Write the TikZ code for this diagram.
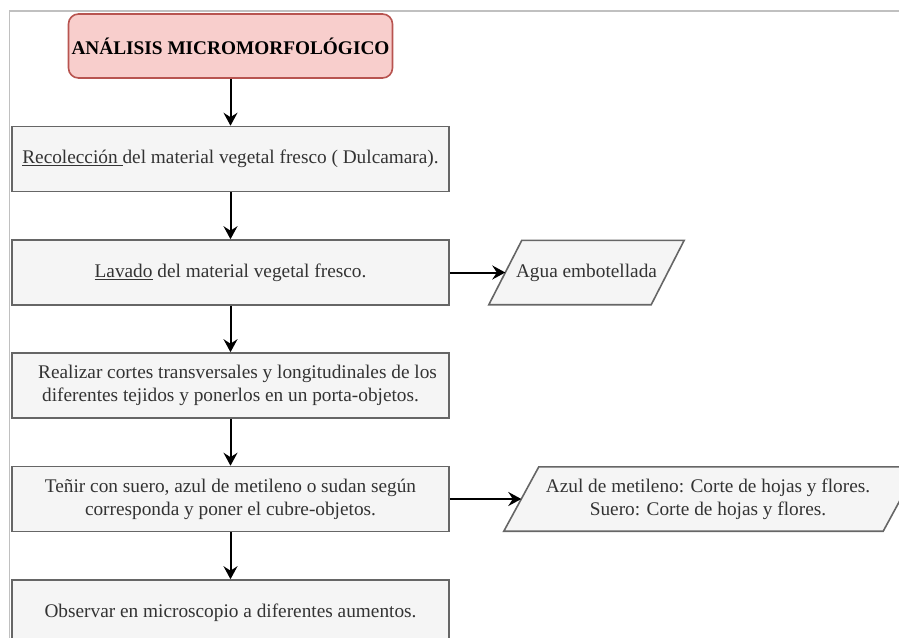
\documentclass[tikz,border=0pt]{standalone}
\usepackage{fontspec}
\setmainfont{Liberation Serif}
\usetikzlibrary{arrows.meta,backgrounds}
\definecolor{boxfill}{HTML}{F5F5F5}
\definecolor{boxline}{HTML}{666666}
\definecolor{boxtext}{HTML}{333333}
\definecolor{titlefill}{HTML}{F8CECC}
\definecolor{titleline}{HTML}{B85450}
\definecolor{framegray}{HTML}{C0C0C0}
\begin{document}
\begin{tikzpicture}[x=1pt,y=-1pt,
  font=\fontsize{19.3}{23}\selectfont,
  stepbox/.style={draw=boxline, fill=boxfill, line width=1.6pt, text=boxtext,
    minimum width=437pt, minimum height=65pt, align=center, inner sep=0pt},
  titlebox/.style={draw=titleline, fill=titlefill, line width=1.6pt, rounded corners=10pt,
    minimum width=324pt, minimum height=64pt, inner sep=0pt,
    font=\fontsize{19.3}{23}\selectfont\bfseries},
  iotext/.style={text=boxtext, align=center, inner sep=0pt, minimum height=64pt},
  paral/.style={draw=boxline, fill=boxfill, line width=1.6pt},
  flow/.style={draw=black, line width=2pt, -{Stealth[length=13pt,width=14pt,inset=4.5pt]}},
  framerule/.style={draw=framegray, line width=1.5pt}
]
\useasboundingbox (0,0) rectangle (899,637);
\clip (0,0) rectangle (899,637);

\draw[framerule] (9.5,640) -- (9.5,11) -- (900,11);

\node[titlebox] (t) at (230.5,46) {ANÁLISIS MICROMORFOLÓGICO};
\node[stepbox] (s1) at (230.5,159) {\underline{Recolección\ }del material vegetal fresco ( Dulcamara).};
\node[stepbox] (s2) at (230.5,272.5) {\underline{Lavado} del material vegetal fresco.};
\node[stepbox] (s3) at (230.5,385.5) {\hspace*{14pt}Realizar cortes transversales y longitudinales de los\\diferentes tejidos y ponerlos en un porta-objetos.};
\node[stepbox] (s4) at (230.5,499) {Teñir con suero, azul de metileno o sudan según\\corresponda y poner el cubre-objetos.};
\node[stepbox] (s5) at (230.5,612.5) {Observar en microscopio a diferentes aumentos.};

\node[iotext, minimum width=162pt] (agua) at (586.5,272.5) {Agua embotellada};
\node[iotext, minimum width=373pt] (tinte) at (708,499) {Azul de metileno: Corte de hojas y flores.\\Suero: Corte de hojas y flores.};

\begin{scope}[on background layer]
  \draw[paral] ([xshift=16.5pt]agua.north west) -- ([xshift=16.5pt]agua.north east)
    -- ([xshift=-16.5pt]agua.south east) -- ([xshift=-16.5pt]agua.south west) -- cycle;
  \draw[paral] ([xshift=17.5pt]tinte.north west) -- ([xshift=23.5pt]tinte.north east)
    -- ([xshift=-11.5pt]tinte.south east) -- ([xshift=-17.5pt]tinte.south west) -- cycle;
\end{scope}

\draw[flow] (t.south) -- (s1.north);
\draw[flow] (s1.south) -- (s2.north);
\draw[flow] (s2.south) -- (s3.north);
\draw[flow] (s3.south) -- (s4.north);
\draw[flow] (s4.south) -- (s5.north);
\draw[flow] (s2.east) -- (agua.west);
\draw[flow] (s4.east) -- (tinte.west);
\end{tikzpicture}
\end{document}
